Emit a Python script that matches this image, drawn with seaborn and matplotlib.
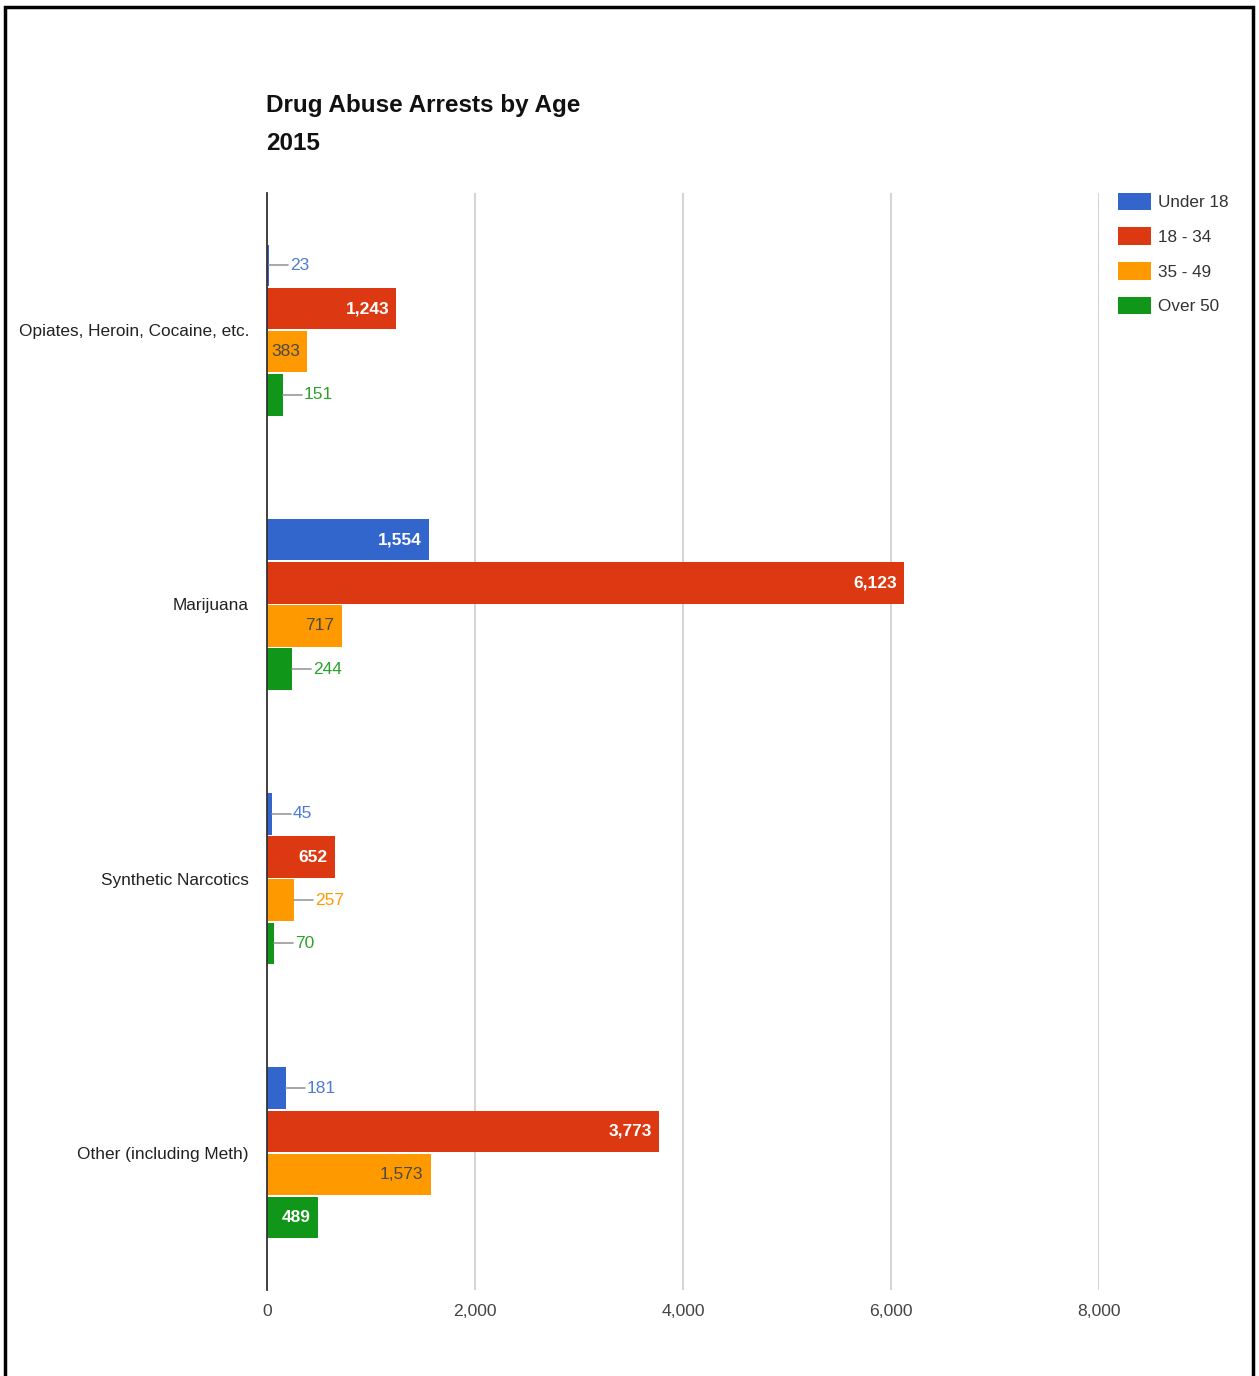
import numpy as np
import pandas as pd
import seaborn as sns
import matplotlib.pyplot as plt
from matplotlib.patches import Patch, Rectangle
from matplotlib.ticker import FuncFormatter

drugs = ['Opiates, Heroin, Cocaine, etc.', 'Marijuana', 'Synthetic Narcotics', 'Other (including Meth)']
ages = ['Under 18', '18 - 34', '35 - 49', 'Over 50']
under_18 = [23, 1554, 45, 181]
age_18_34 = [1243, 6123, 652, 3773]
age_35_49 = [383, 717, 257, 1573]
over_50 = [151, 244, 70, 489]
colors = ['#3366CC', '#DC3912', '#FF9900', '#109618']
inside_colors = ['white', 'white', '#4a4a4a', 'white']
outside_colors = ['#4f7bd6', '#DC3912', '#FF9900', '#2ca12c']
xticks = [0, 2000, 4000, 6000, 8000]

df = pd.DataFrame({
    'drug': drugs * 4,
    'age': [a for a in ages for _ in drugs],
    'arrests': under_18 + age_18_34 + age_35_49 + over_50,
})

sns.set_style('white')
plt.rcParams['font.family'] = ['Liberation Sans', 'DejaVu Sans']

fig = plt.figure(figsize=(12.59, 13.76), dpi=100)
ax = fig.add_axes([267/1259, 1 - 1290/1376, (1099 - 267)/1259, (1290 - 193)/1376])

sns.barplot(data=df, y='drug', x='arrests', hue='age', hue_order=ages, order=drugs,
            orient='h', palette=colors, saturation=1, width=0.63, gap=0.04, linewidth=0,
            legend=False, ax=ax)

ax.set_xlim(0, 8000)
ax.set_ylim(3.5, -0.5)
ax.set_xticks(xticks)
ax.xaxis.set_major_formatter(FuncFormatter(lambda v, p: f'{int(v):,}'))
ax.grid(axis='x', color='#cccccc', linewidth=1.2)
ax.set_axisbelow(True)
for s in ['top', 'right', 'bottom']:
    ax.spines[s].set_visible(False)
ax.spines['left'].set_color('#333333')
ax.spines['left'].set_linewidth(1.3)
ax.tick_params(axis='y', length=0, pad=13, labelsize=12.4, labelcolor='#222222')
ax.tick_params(axis='x', length=0, pad=10, labelsize=12.6, labelcolor='#444444')
ax.set_xlabel('')
ax.set_ylabel('')

# data labels: inside the bar if it fits, else outside with a leader line
for i, cont in enumerate(ax.containers):
    for bar in cont:
        w = bar.get_width()
        yc = bar.get_y() + bar.get_height() / 2
        txt = f'{int(round(w)):,}'
        if w >= 320:
            ax.annotate(txt, (w, yc), xytext=(-7, 0), textcoords='offset pixels',
                        ha='right', va='center', fontsize=12.5, color=inside_colors[i],
                        fontweight='bold' if i != 2 else 'normal')
        else:
            x0 = ax.transData.transform((w, yc))
            inv = ax.transData.inverted()
            x1 = inv.transform((x0[0] + 19, x0[1]))[0]
            ax.plot([w, x1], [yc, yc], color='#999999', linewidth=1.2, clip_on=False)
            ax.annotate(txt, (w, yc), xytext=(21, 0), textcoords='offset pixels',
                        ha='left', va='center', fontsize=12.5, color=outside_colors[i])

fig.text(266/1259, 1 - 112/1376, 'Drug Abuse Arrests by Age', fontsize=17.5,
         fontweight='bold', color='#111111', va='baseline')
fig.text(266/1259, 1 - 150/1376, '2015', fontsize=17.5,
         fontweight='bold', color='#111111', va='baseline')

handles = [Patch(facecolor=c, edgecolor='none') for c in colors]
fig.legend(handles, ages, loc='upper left', bbox_to_anchor=(1111/1259, 1 - 186/1376),
           frameon=False, fontsize=12.3, handlelength=1.95, handleheight=1.2,
           handletextpad=0.4, labelspacing=1.0, borderaxespad=0, labelcolor='#333333')

fig.patches.append(Rectangle((5/1259, -0.05), (1253 - 5)/1259, 1.05 - 7/1376,
                             transform=fig.transFigure, fill=False,
                             edgecolor='black', linewidth=2.5))

fig.savefig('out.png', dpi=100)
